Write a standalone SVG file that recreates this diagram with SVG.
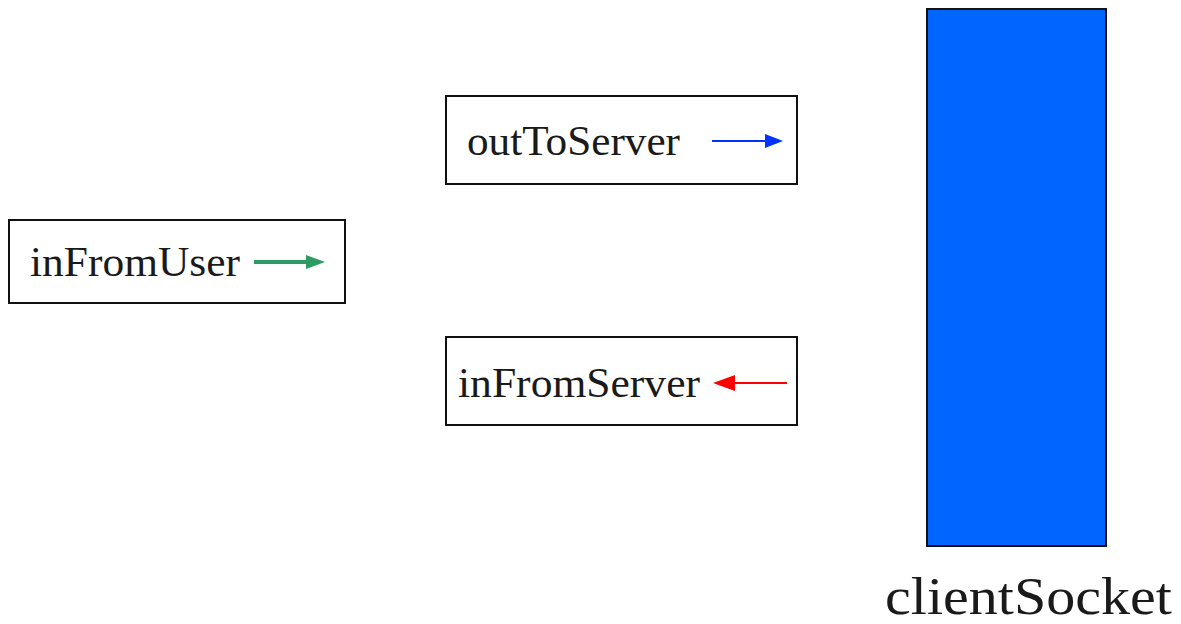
<svg xmlns="http://www.w3.org/2000/svg" width="1181" height="624" viewBox="0 0 1181 624">
<style>
.box{fill:#fff;stroke:#111;stroke-width:2}
.lbl{font-family:"Liberation Serif","Times New Roman",serif;font-size:42px;fill:#1a1a1a}
</style>
<rect width="1181" height="624" fill="#fff"/>
<g id="inFromUser">
<rect class="box" x="9" y="220" width="336" height="83"/>
<text class="lbl" x="30" y="276" textLength="210" lengthAdjust="spacingAndGlyphs">inFromUser</text>
</g>
<g id="outToServer">
<rect class="box" x="446" y="96" width="351" height="88"/>
<text class="lbl" x="467" y="155" textLength="213" lengthAdjust="spacingAndGlyphs">outToServer</text>
</g>
<g id="inFromServer">
<rect class="box" x="446" y="337" width="351" height="88"/>
<text class="lbl" x="458" y="397" textLength="242" lengthAdjust="spacingAndGlyphs">inFromServer</text>
</g>
<g id="clientSocket">
<rect x="927" y="9" width="179" height="537" fill="#0066ff" stroke="#111" stroke-width="2"/>
<text class="lbl" x="885" y="614" font-size="52" style="font-size:52px" textLength="287" lengthAdjust="spacingAndGlyphs">clientSocket</text>
</g>
<g id="connectors">
<line x1="254" y1="262" x2="308" y2="262" stroke="#2e9b62" stroke-width="4"/>
<polygon points="306,255 325,262 306,269" fill="#2e9b62"/>
<line x1="712" y1="141" x2="768" y2="141" stroke="#0033ff" stroke-width="2"/>
<polygon points="765,134 783,141 765,148" fill="#0033ff"/>
<line x1="787" y1="383" x2="732" y2="383" stroke="#ff0000" stroke-width="2"/>
<polygon points="735,375 713,383 735,391" fill="#ff0000"/>
</g>
</svg>
